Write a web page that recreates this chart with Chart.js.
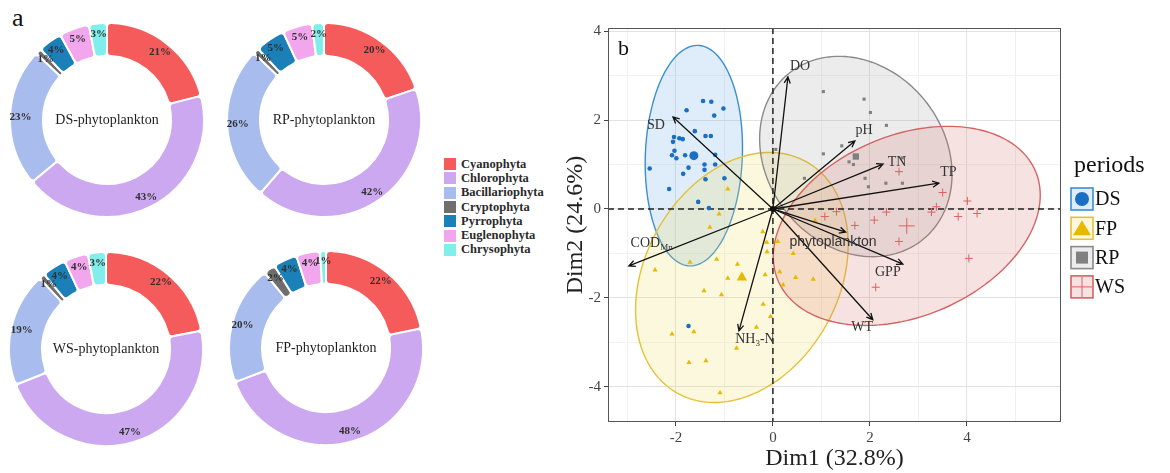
<!DOCTYPE html>
<html>
<head>
<meta charset="utf-8">
<script src="https://cdn.jsdelivr.net/npm/chart.js@4.4.1/dist/chart.umd.min.js"></script>
<style>
  body { margin: 0; width: 1170px; height: 473px; position: relative; overflow: hidden; background: #fff; font-family: "Liberation Serif", serif; }
  .abs { position: absolute; }
  #panelA { left: 12px; top: 5px; font-size: 26px; line-height: 26px; color: #111; }
  #phylaLegend { left: 444px; top: 157px; }
  .lg-row { height: 14.3px; display: flex; align-items: center; font: bold 12.5px "Liberation Serif", serif; color: #2a2a2a; white-space: nowrap; }
  .lg-sw { width: 12px; height: 12px; margin-right: 5px; }
</style>
</head>
<body>
<div id="panelA" class="abs">a</div>
<canvas id="dsDonut" class="abs" width="200" height="200" style="left:7px;top:20px"></canvas>
<canvas id="rpDonut" class="abs" width="200" height="200" style="left:224px;top:20px"></canvas>
<canvas id="wsDonut" class="abs" width="200" height="200" style="left:6px;top:249px"></canvas>
<canvas id="fpDonut" class="abs" width="200" height="200" style="left:226px;top:248px"></canvas>
<div id="phylaLegend" class="abs"></div>
<canvas id="pca" class="abs" width="630" height="473" style="left:540px;top:0px"></canvas>

<script>
'use strict';

// ── data: panel a (phytoplankton composition, %) ─────────────────────────────
const PHYLA = ['Cyanophyta', 'Chlorophyta', 'Bacillariophyta', 'Cryptophyta',
  'Pyrrophyta', 'Euglenophyta', 'Chrysophyta'];
const DS_SHARE = [21, 43, 23, 1, 4, 5, 3];
const RP_SHARE = [20, 42, 26, 1, 5, 5, 2];
const WS_SHARE = [22, 47, 19, 1, 4, 4, 3];
const FP_SHARE = [22, 48, 20, 2, 4, 4, 1];

// ── data: panel b (PCA biplot) ────────────────────────────────────────────────
const PERIODS = ['DS', 'FP', 'RP', 'WS'];
const DS_PTS = [[-1.44, 2.43], [-1.27, 2.41], [-1.02, 2.26], [-1.78, 2.22], [-1.21, 2.10],
  [-1.61, 1.75], [-1.39, 1.64], [-1.28, 1.64], [-2.04, 1.62], [-1.93, 1.59], [-1.86, 1.57],
  [-2.06, 1.51], [-2.03, 1.31], [-2.08, 1.21], [-1.81, 1.21], [-1.19, 1.22], [-1.99, 1.14],
  [-1.74, 0.93], [-1.41, 1.00], [-1.19, 1.00], [-2.54, 0.91], [-1.41, 0.88], [-1.85, 0.79],
  [-1.39, 0.67], [-1.00, 0.69], [-2.14, 0.45], [-1.54, 0.16], [-1.32, 0.02], [-1.74, -2.63]];
const FP_PTS = [[-1.11, -0.11], [-1.30, -0.41], [-0.21, -0.51], [-0.13, -0.75], [-0.12, -0.96],
  [-1.71, -1.20], [-1.16, -1.13], [-0.73, -1.24], [-2.43, -1.37], [-0.93, -1.56], [-0.16, -1.48],
  [-1.42, -1.84], [-1.06, -1.93], [-0.20, -2.14], [-0.05, -2.42], [-0.34, -2.66], [-2.08, -2.81],
  [-1.63, -2.76], [-0.75, -3.13], [-1.73, -3.45], [-1.38, -3.41], [-1.09, -4.13], [0.10, -0.73],
  [0.42, -1.00], [0.14, -1.41], [0.21, -1.71], [0.47, -1.54], [0.83, -1.58], [0.87, -0.26],
  [-0.93, 0.45]];
const RP_PTS = [[1.04, 2.64], [1.88, 2.47], [2.01, 2.17], [2.34, 1.88], [1.04, 1.24], [1.42, 1.42],
  [1.57, 1.06], [1.66, 1.00], [2.67, 1.15], [1.90, 0.69], [1.97, 0.50], [2.33, 0.58], [2.67, 0.58],
  [0.06, 1.34], [0.65, 0.69]];
const WS_PTS = [[2.60, 0.84], [3.50, 0.37], [4.01, 0.18], [3.37, 0.05], [3.27, -0.07], [2.34, -0.07],
  [3.82, -0.17], [4.21, -0.10], [2.09, -0.25], [1.69, -0.37], [2.60, -0.73], [4.04, -1.11],
  [2.12, -1.76], [1.07, -0.17], [1.31, -0.06]];
const GROUP_MEANS = [[-1.63, 1.20], [-0.64, -1.54], [1.71, 1.18], [2.76, -0.38]];

// concentration ellipses: semi-axes and tilt (degrees) around each group mean
const ELL_A = [2.48, 2.93, 2.34, 2.93];
const ELL_B = [1.00, 2.03, 1.88, 2.00];
const ELL_ANGLE = [88, 67, 117, 28];

// variable loadings (arrow tips) and label anchors
const VARS = ['DO', 'SD', 'pH', 'TN', 'TP', 'phytoplankton', 'GPP', 'WT', 'COD_{Mn}', 'NH_{3}-N'];
const VAR_X = [0.31, -2.06, 1.69, 2.27, 3.42, 1.50, 2.68, 2.06, -2.97, -0.70];
const VAR_Y = [2.97, 2.07, 1.53, 1.01, 0.58, -0.52, -1.24, -2.49, -1.28, -2.74];
const LABEL_X = [0.56, -2.41, 1.88, 2.56, 3.62, 1.24, 2.37, 1.84, -2.50, -0.37];
const LABEL_Y = [3.21, 1.89, 1.78, 1.06, 0.83, -0.74, -1.42, -2.67, -0.78, -2.94];

const X_TICKS = [-3, -2, -1, 0, 1, 2, 3, 4, 5];
const Y_TICKS = [-4, -3, -2, -1, 0, 1, 2, 3, 4];

// ── styles ────────────────────────────────────────────────────────────────────
const PHYLA_COLORS = ['#f65b5b', '#cca8f0', '#a8bcee', '#6e6e6e', '#1b80b8', '#f2a6ee', '#80eeea'];
const PT_COLORS = ['#1a6fc2', '#e8b900', '#808080', '#df6060'];
const ELL_LINE = ['#3b8fd0', '#e3c23a', '#8a8a8a', '#d46464'];
const ELL_FILL = ['rgba(120,175,230,0.24)', 'rgba(242,222,100,0.22)',
  'rgba(150,150,150,0.18)', 'rgba(215,110,110,0.2)'];
const SERIF = '"Liberation Serif", "Times New Roman", serif';

// ── panel a ───────────────────────────────────────────────────────────────────
function donutText(title) {
  return {
    id: 'donutText',
    afterDatasetsDraw(chart) {
      const { ctx } = chart;
      const meta = chart.getDatasetMeta(0);
      const values = chart.data.datasets[0].data;
      ctx.save();
      ctx.textAlign = 'center';
      ctx.textBaseline = 'middle';
      ctx.fillStyle = '#303030';
      ctx.font = 'bold 11px ' + SERIF;
      meta.data.forEach((arc, i) => {
        const p = arc.getProps(['x', 'y', 'startAngle', 'endAngle', 'innerRadius', 'outerRadius'], true);
        const mid = (p.startAngle + p.endAngle) / 2;
        const r = p.innerRadius + 0.68 * (p.outerRadius - p.innerRadius);
        ctx.fillText(values[i] + '%', p.x + Math.cos(mid) * r, p.y + Math.sin(mid) * r);
      });
      const c = meta.data[0];
      ctx.font = '14px ' + SERIF;
      ctx.fillStyle = '#1e1e1e';
      ctx.fillText(title, c.x, c.y);
      ctx.restore();
    },
  };
}

function makeDonut(id, shares, title) {
  return new Chart(document.getElementById(id), {
    type: 'doughnut',
    data: {
      labels: PHYLA,
      datasets: [{
        data: shares,
        backgroundColor: PHYLA_COLORS,
        borderColor: '#ffffff',
        borderWidth: 2,
        borderRadius: 4,
      }],
    },
    options: {
      responsive: false,
      animation: false,
      cutout: '66%',
      layout: { padding: 2 },
      plugins: { legend: { display: false }, tooltip: { enabled: false } },
    },
    plugins: [donutText(title)],
  });
}

makeDonut('dsDonut', DS_SHARE, 'DS-phytoplankton');
makeDonut('rpDonut', RP_SHARE, 'RP-phytoplankton');
makeDonut('wsDonut', WS_SHARE, 'WS-phytoplankton');
makeDonut('fpDonut', FP_SHARE, 'FP-phytoplankton');

const legendBox = document.getElementById('phylaLegend');
PHYLA.forEach((name, i) => {
  const row = document.createElement('div');
  row.className = 'lg-row';
  const sw = document.createElement('span');
  sw.className = 'lg-sw';
  sw.style.background = PHYLA_COLORS[i];
  row.appendChild(sw);
  row.appendChild(document.createTextNode(name));
  legendBox.appendChild(row);
});

// ── panel b helpers ───────────────────────────────────────────────────────────
function toXY(pts) {
  return pts.map(([x, y]) => ({ x, y }));
}

// draws "COD_{Mn}" style labels with subscripts, centred on (x, y)
function drawRich(ctx, text, x, y, size, family) {
  const parts = [];
  const re = /_\{([^}]*)\}/g;
  let last = 0, m;
  while ((m = re.exec(text))) {
    if (m.index > last) parts.push({ t: text.slice(last, m.index), sub: false });
    parts.push({ t: m[1], sub: true });
    last = re.lastIndex;
  }
  if (last < text.length) parts.push({ t: text.slice(last), sub: false });
  const fontFor = (p) => (p.sub ? Math.round(size * 0.65) : size) + 'px ' + family;
  let w = 0;
  parts.forEach((p) => { ctx.font = fontFor(p); p.w = ctx.measureText(p.t).width; w += p.w; });
  let cx = x - w / 2;
  ctx.textAlign = 'left';
  ctx.textBaseline = 'middle';
  parts.forEach((p) => {
    ctx.font = fontFor(p);
    ctx.fillText(p.t, cx, p.sub ? y + size * 0.3 : y);
    cx += p.w;
  });
}

function drawKeySymbol(ctx, i, cx, cy) {
  ctx.fillStyle = PT_COLORS[i];
  ctx.strokeStyle = PT_COLORS[i];
  if (i === 0) {
    ctx.beginPath(); ctx.arc(cx, cy, 7, 0, Math.PI * 2); ctx.fill();
  } else if (i === 1) {
    ctx.beginPath(); ctx.moveTo(cx, cy - 8); ctx.lineTo(cx + 9, cy + 7); ctx.lineTo(cx - 9, cy + 7);
    ctx.closePath(); ctx.fill();
  } else if (i === 2) {
    ctx.fillRect(cx - 6, cy - 6, 12, 12);
  } else {
    ctx.lineWidth = 1;
    ctx.beginPath(); ctx.moveTo(cx - 10, cy); ctx.lineTo(cx + 10, cy);
    ctx.moveTo(cx, cy - 10); ctx.lineTo(cx, cy + 10); ctx.stroke();
  }
}

const pcaExtras = {
  id: 'pcaExtras',
  beforeDatasetsDraw(chart) {
    const { ctx, chartArea: a, scales: { x, y } } = chart;
    ctx.save();
    ctx.beginPath();
    ctx.rect(a.left, a.top, a.right - a.left, a.bottom - a.top);
    ctx.clip();
    // ellipses
    PERIODS.forEach((_, i) => {
      const [cx, cy] = GROUP_MEANS[i];
      const th = ELL_ANGLE[i] * Math.PI / 180;
      ctx.beginPath();
      for (let k = 0; k <= 180; k++) {
        const t = (k / 180) * Math.PI * 2;
        const ex = ELL_A[i] * Math.cos(t);
        const ey = ELL_B[i] * Math.sin(t);
        const px = x.getPixelForValue(cx + ex * Math.cos(th) - ey * Math.sin(th));
        const py = y.getPixelForValue(cy + ex * Math.sin(th) + ey * Math.cos(th));
        if (k === 0) ctx.moveTo(px, py); else ctx.lineTo(px, py);
      }
      ctx.closePath();
      ctx.fillStyle = ELL_FILL[i];
      ctx.fill();
      ctx.lineWidth = 1.4;
      ctx.strokeStyle = ELL_LINE[i];
      ctx.stroke();
    });
    // zero lines
    const x0 = x.getPixelForValue(0);
    const y0 = y.getPixelForValue(0);
    ctx.setLineDash([6, 4]);
    ctx.lineWidth = 1.5;
    ctx.strokeStyle = '#222';
    ctx.beginPath();
    ctx.moveTo(x0, a.top); ctx.lineTo(x0, a.bottom);
    ctx.moveTo(a.left, y0); ctx.lineTo(a.right, y0);
    ctx.stroke();
    ctx.restore();
  },
  afterDatasetsDraw(chart) {
    const { ctx, chartArea: a, scales: { x, y } } = chart;
    const ox = x.getPixelForValue(0);
    const oy = y.getPixelForValue(0);
    ctx.save();
    ctx.strokeStyle = '#111';
    ctx.fillStyle = '#111';
    ctx.lineWidth = 1.3;
    VARS.forEach((name, i) => {
      const tx = x.getPixelForValue(VAR_X[i]);
      const ty = y.getPixelForValue(VAR_Y[i]);
      const ang = Math.atan2(ty - oy, tx - ox);
      ctx.beginPath();
      ctx.moveTo(ox, oy); ctx.lineTo(tx, ty);
      ctx.moveTo(tx - 7 * Math.cos(ang - 0.45), ty - 7 * Math.sin(ang - 0.45));
      ctx.lineTo(tx, ty);
      ctx.lineTo(tx - 7 * Math.cos(ang + 0.45), ty - 7 * Math.sin(ang + 0.45));
      ctx.stroke();
    });
    ctx.beginPath(); ctx.arc(ox, oy, 3, 0, Math.PI * 2); ctx.fill();
    ctx.fillStyle = '#333';
    VARS.forEach((name, i) => {
      const lx = x.getPixelForValue(LABEL_X[i]);
      const ly = y.getPixelForValue(LABEL_Y[i]);
      if (name === 'phytoplankton') drawRich(ctx, name, lx, ly, 14, '"Liberation Sans", Arial, sans-serif');
      else drawRich(ctx, name, lx, ly, 14, SERIF);
    });
    // panel border
    ctx.strokeStyle = '#555';
    ctx.lineWidth = 1;
    ctx.strokeRect(a.left + 0.5, a.top + 0.5, a.right - a.left - 1, a.bottom - a.top - 1);
    // panel tag
    ctx.fillStyle = '#111';
    ctx.font = '22px ' + SERIF;
    ctx.textAlign = 'left';
    ctx.textBaseline = 'alphabetic';
    ctx.fillText('b', a.left + 10, a.top + 27);
    ctx.restore();
  },
  afterDraw(chart) {
    const { ctx, chartArea: a } = chart;
    const lx = a.right + 10;
    ctx.save();
    ctx.fillStyle = '#111';
    ctx.font = '24px ' + SERIF;
    ctx.textAlign = 'left';
    ctx.textBaseline = 'alphabetic';
    ctx.fillText('periods', lx + 3, 172);
    PERIODS.forEach((p, i) => {
      const cy = 199 + i * 29.3;
      ctx.fillStyle = ELL_FILL[i];
      ctx.fillRect(lx, cy - 11, 22, 22);
      ctx.strokeStyle = ELL_LINE[i];
      ctx.lineWidth = 1.6;
      ctx.strokeRect(lx, cy - 11, 22, 22);
      drawKeySymbol(ctx, i, lx + 11, cy);
      ctx.fillStyle = '#111';
      ctx.font = '20px ' + SERIF;
      ctx.textBaseline = 'middle';
      ctx.fillText(p, lx + 24, cy + 1);
      ctx.textBaseline = 'alphabetic';
    });
    ctx.restore();
  },
};

const gridColor = (c) => (c.tick && c.tick.value % 2 === 0 ? '#e2e2e2' : '#f1f1f1');
const tickMarkColor = (c) => (c.tick && c.tick.value % 2 === 0 ? '#444' : 'rgba(0,0,0,0)');
const evenLabel = (v) => (v % 2 === 0 ? String(v) : '');

const datasets = PERIODS.map((p, i) => ({
  label: p,
  data: toXY([DS_PTS, FP_PTS, RP_PTS, WS_PTS][i]),
  pointStyle: ['circle', 'triangle', 'rect', 'cross'][i],
  pointRadius: [2.3, 3, 2.2, 4][i],
  backgroundColor: PT_COLORS[i],
  borderColor: PT_COLORS[i],
  borderWidth: i === 3 ? 1 : 0,
}));
datasets.push(...PERIODS.map((p, i) => ({
  label: p + ' mean',
  data: toXY([GROUP_MEANS[i]]),
  pointStyle: ['circle', 'triangle', 'rect', 'cross'][i],
  pointRadius: [4.5, 6, 4.5, 8][i],
  backgroundColor: PT_COLORS[i],
  borderColor: PT_COLORS[i],
  borderWidth: i === 3 ? 1 : 0,
})));

new Chart(document.getElementById('pca'), {
  type: 'scatter',
  data: { datasets },
  options: {
    responsive: false,
    animation: false,
    layout: { padding: { left: 0, right: 109, top: 28, bottom: 0 } },
    plugins: { legend: { display: false }, tooltip: { enabled: false } },
    scales: {
      x: {
        type: 'linear',
        min: -3.4,
        max: 5.94,
        afterBuildTicks: (s) => { s.ticks = X_TICKS.map((v) => ({ value: v })); },
        afterFit: (s) => { s.height = 51; },
        ticks: { callback: evenLabel, autoSkip: false, maxRotation: 0, padding: 3,
          color: '#444', font: { family: SERIF, size: 15 } },
        grid: { color: gridColor, tickColor: tickMarkColor, tickLength: 4, lineWidth: 1 },
        border: { display: false },
        title: { display: true, text: 'Dim1 (32.8%)', color: '#222',
          font: { family: SERIF, size: 24 }, padding: { top: 0, bottom: 0 } },
      },
      y: {
        type: 'linear',
        min: -4.79,
        max: 4.07,
        afterBuildTicks: (s) => { s.ticks = Y_TICKS.map((v) => ({ value: v })); },
        afterFit: (s) => { s.width = 68; },
        ticks: { callback: evenLabel, autoSkip: false, padding: 3,
          color: '#444', font: { family: SERIF, size: 15 } },
        grid: { color: gridColor, tickColor: tickMarkColor, tickLength: 4, lineWidth: 1 },
        border: { display: false },
        title: { display: true, text: 'Dim2 (24.6%)', color: '#222',
          font: { family: SERIF, size: 24 }, padding: { top: 21, bottom: 0 } },
      },
    },
  },
  plugins: [pcaExtras],
});
</script>
</body>
</html>
